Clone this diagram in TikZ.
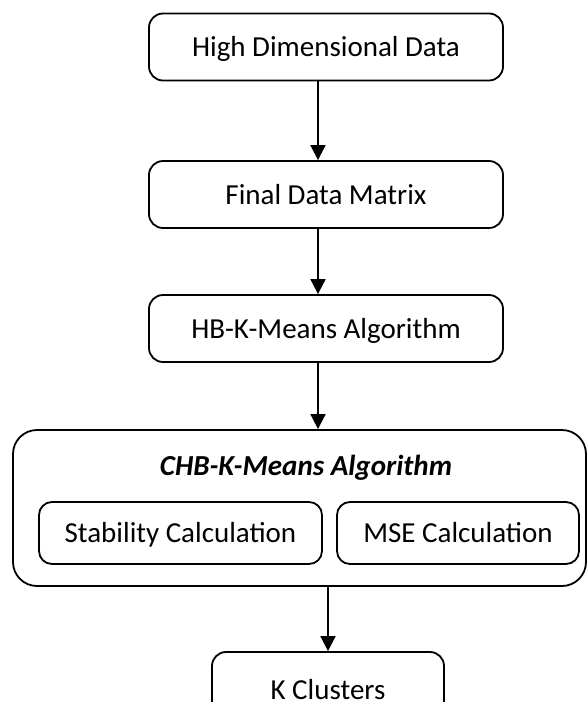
\documentclass[tikz,border=0pt]{standalone}
\usepackage{fontspec}
\setmainfont{Carlito}
\usetikzlibrary{arrows.meta}
\begin{document}
\begin{tikzpicture}[x=1pt,y=-1pt,
  lbl/.style={font=\fontsize{29}{34}\selectfont, text height=19pt, text depth=0pt, inner sep=0pt},
  box/.style={lbl, draw, line width=1.8pt, rounded corners=14pt, minimum width=354pt, minimum height=67pt},
  bigbox/.style={draw, line width=1.8pt, rounded corners=24pt, minimum width=573pt, minimum height=156pt, inner sep=0pt},
  innerbox/.style={lbl, draw, line width=1.8pt, rounded corners=13pt, minimum height=62pt},
  arr/.style={line width=1.8pt, -{Triangle[length=15pt,width=15pt]}}]
\useasboundingbox (0,0) rectangle (587,702);
\clip (0,0) rectangle (587,702);
\node[box] (hdd) at (326,47) {High Dimensional Data};
\node[box] (fdm) at (326,194.5) {Final Data Matrix};
\node[box] (hbk) at (326,328.5) {HB-K-Means Algorithm};
\node[bigbox] (chb) at (299.5,508) {};
\node[lbl] (ttl) at (306,466) {\textbf{\textit{CHB-K-Means Algorithm}}};
\node[innerbox, minimum width=283pt] (stab) at (180.5,533) {Stability Calculation};
\node[innerbox, minimum width=242pt] (mse) at (458,533) {MSE Calculation};
\node[box, minimum width=232pt, minimum height=76pt] (kc) at (328,690) {K Clusters};
\draw[arr] ([xshift=-8pt]hdd.south) -- ([xshift=-8pt]fdm.north);
\draw[arr] ([xshift=-8pt]fdm.south) -- ([xshift=-8pt]hbk.north);
\draw[arr] ([xshift=-8pt]hbk.south) -- ([xshift=-8pt]hbk.south |- chb.north);
\draw[arr] (kc.north |- chb.south) -- (kc.north);
\end{tikzpicture}
\end{document}
